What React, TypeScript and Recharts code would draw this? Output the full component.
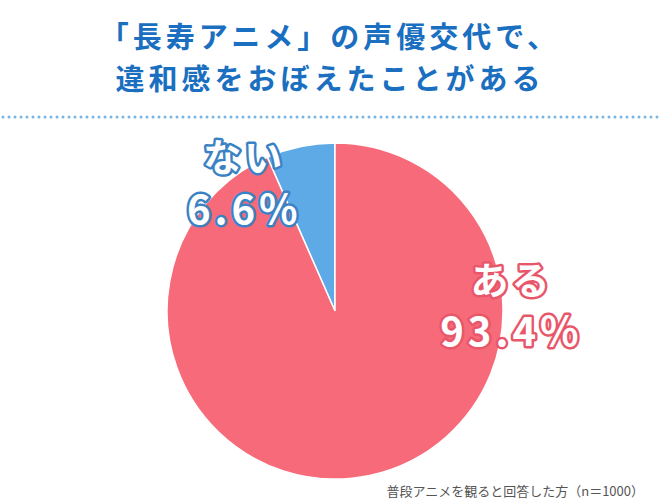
import { Cell, Pie, PieChart } from "recharts";

const categories = ["ない", "ある"];
const shares = [6.6, 93.4];
const sliceColors = ["#5eaae6", "#f76a79"];
const outlineColors = ["#3b82c4", "#e8566a"];

const titleLines = ["「長寿アニメ」の声優交代で、", "違和感をおぼえたことがある"];
const footnote = "普段アニメを観ると回答した方（n＝1000）";

const data = categories.map((name, i) => ({ name, value: shares[i] }));

const FONT = '"Noto Sans CJK JP", "Noto Sans", sans-serif';

// label anchor offsets as fractions of the radius (name line, percent line)
const labelSpots = [
  { dx: -0.54, ny: -0.93, py: -0.62 },
  { dx: 1.05, ny: -0.2, py: 0.11 },
];

function renderLabel(props: any) {
  const { cx, cy, outerRadius, index } = props;
  const spot = labelSpots[index];
  const x = cx + spot.dx * outerRadius;
  const common = {
    x,
    textAnchor: "middle" as const,
    dominantBaseline: "central" as const,
    fill: "#ffffff",
    stroke: outlineColors[index],
    strokeWidth: 5,
    strokeLinejoin: "round" as const,
    paintOrder: "stroke",
    fontFamily: FONT,
    fontWeight: 700,
  };
  return (
    <g key={`lbl-${index}`}>
      <text {...common} y={cy + spot.ny * outerRadius} fontSize={38} letterSpacing={3}>
        {categories[index]}
      </text>
      <text {...common} y={cy + spot.py * outerRadius} fontSize={40} letterSpacing={4}>
        {shares[index].toFixed(1)}%
      </text>
    </g>
  );
}

export default function App() {
  return (
    <div
      style={{
        position: "absolute",
        left: 0,
        top: 0,
        width: 660,
        height: 500,
        background: "#ffffff",
        fontFamily: FONT,
      }}
    >
      <div
        style={{
          position: "absolute",
          top: 14,
          left: 0,
          width: 660,
          textAlign: "center",
          color: "#1a6fc0",
          fontWeight: 700,
          fontSize: 29,
          lineHeight: "42px",
          letterSpacing: 4,
        }}
      >
        {titleLines.map((t) => (
          <div key={t}>{t}</div>
        ))}
      </div>
      <svg
        width={660}
        height={10}
        style={{ position: "absolute", left: 0, top: 112 }}
      >
        <line
          x1={3}
          y1={5}
          x2={660}
          y2={5}
          stroke="#77b6e3"
          strokeWidth={3}
          strokeLinecap="round"
          strokeDasharray="0 6"
        />
      </svg>
      <div style={{ position: "absolute", left: 0, top: 0 }}>
        <PieChart width={660} height={500}>
          <Pie
            data={data}
            dataKey="value"
            nameKey="name"
            cx={330}
            cy={306}
            outerRadius={168}
            startAngle={90}
            endAngle={450}
            stroke="#ffffff"
            strokeWidth={1.5}
            label={renderLabel}
            labelLine={false}
            isAnimationActive={false}
          >
            {data.map((d, i) => (
              <Cell key={d.name} fill={sliceColors[i]} />
            ))}
          </Pie>
        </PieChart>
      </div>
      <div
        style={{
          position: "absolute",
          right: 16,
          top: 481,
          fontSize: 13,
          color: "#555555",
          whiteSpace: "nowrap",
        }}
      >
        {footnote}
      </div>
    </div>
  );
}
